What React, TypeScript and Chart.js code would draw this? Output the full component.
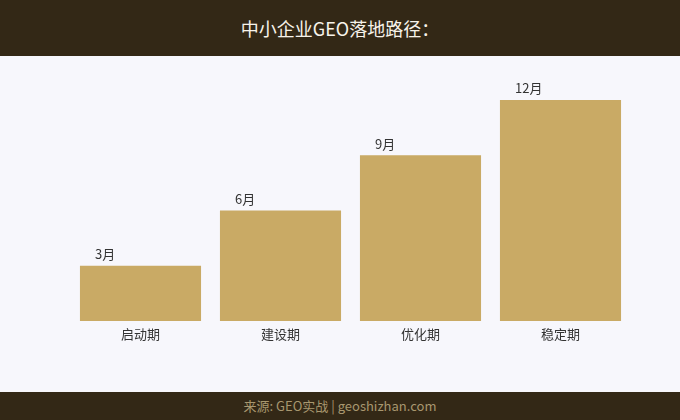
import React, { useEffect, useRef } from "react";
import { Chart, registerables } from "chart.js";

Chart.register(...registerables);

const categories = ["启动期", "建设期", "优化期", "稳定期"];
const months = [3, 6, 9, 12];
const valueLabels = ["3月", "6月", "9月", "12月"];
const titleText = "中小企业GEO落地路径：";
const footerText = "来源: GEO实战 | geoshizhan.com";

const FONT = '"Noto Sans CJK SC", "Noto Sans", sans-serif';

export default function App() {
  const ref = useRef<HTMLCanvasElement | null>(null);

  useEffect(() => {
    if (!ref.current) return;
    const labelPlugin = {
      id: "barLabels",
      afterDatasetsDraw(chart: any) {
        const ctx = chart.ctx;
        const meta = chart.getDatasetMeta(0);
        ctx.save();
        ctx.font = `13px ${FONT}`;
        ctx.fillStyle = "#333333";
        ctx.textAlign = "left";
        ctx.textBaseline = "bottom";
        meta.data.forEach((bar: any, i: number) => {
          const left = bar.x - bar.width / 2;
          ctx.fillText(valueLabels[i], left + 15, bar.y - 5);
        });
        ctx.restore();
      },
    };
    const chart = new Chart(ref.current, {
      type: "bar",
      data: {
        labels: categories,
        datasets: [
          {
            data: months,
            backgroundColor: "#c9aa65",
            borderWidth: 0,
            barPercentage: 0.865,
            categoryPercentage: 1,
          },
        ],
      },
      options: {
        animation: false,
        responsive: false,
        maintainAspectRatio: false,
        layout: { padding: { left: 70.5, right: 49.5, top: 44, bottom: 51 } },
        plugins: {
          legend: { display: false },
          tooltip: { enabled: false },
          title: { display: false },
        },
        scales: {
          x: {
            grid: { display: false, drawTicks: false },
            border: { display: false },
            ticks: {
              color: "#333333",
              font: { family: FONT, size: 13 },
              padding: 5,
            },
            afterFit: (scale: any) => {
              scale.height = 20;
            },
          },
          y: {
            display: false,
            min: 0,
            max: 12,
          },
        },
      },
      plugins: [labelPlugin],
    });
    return () => chart.destroy();
  }, []);

  return (
    <div
      style={{
        position: "fixed",
        left: 0,
        top: 0,
        width: 680,
        height: 420,
        background: "#f7f7fc",
        fontFamily: FONT,
        overflow: "hidden",
      }}
    >
      <div
        style={{
          position: "absolute",
          left: 0,
          top: 0,
          width: 680,
          height: 56,
          background: "#332816",
          color: "#f7f3ea",
          fontSize: 18,
          lineHeight: "56px",
          textAlign: "center",
        }}
      >
        {titleText}
      </div>
      <canvas
        ref={ref}
        width={680}
        height={336}
        style={{ position: "absolute", left: 0, top: 56, width: 680, height: 336 }}
      />
      <div
        style={{
          position: "absolute",
          left: 0,
          top: 392,
          width: 680,
          height: 28,
          background: "#332816",
          color: "#a8976f",
          fontSize: 13,
          lineHeight: "28px",
          textAlign: "center",
        }}
      >
        {footerText}
      </div>
    </div>
  );
}
